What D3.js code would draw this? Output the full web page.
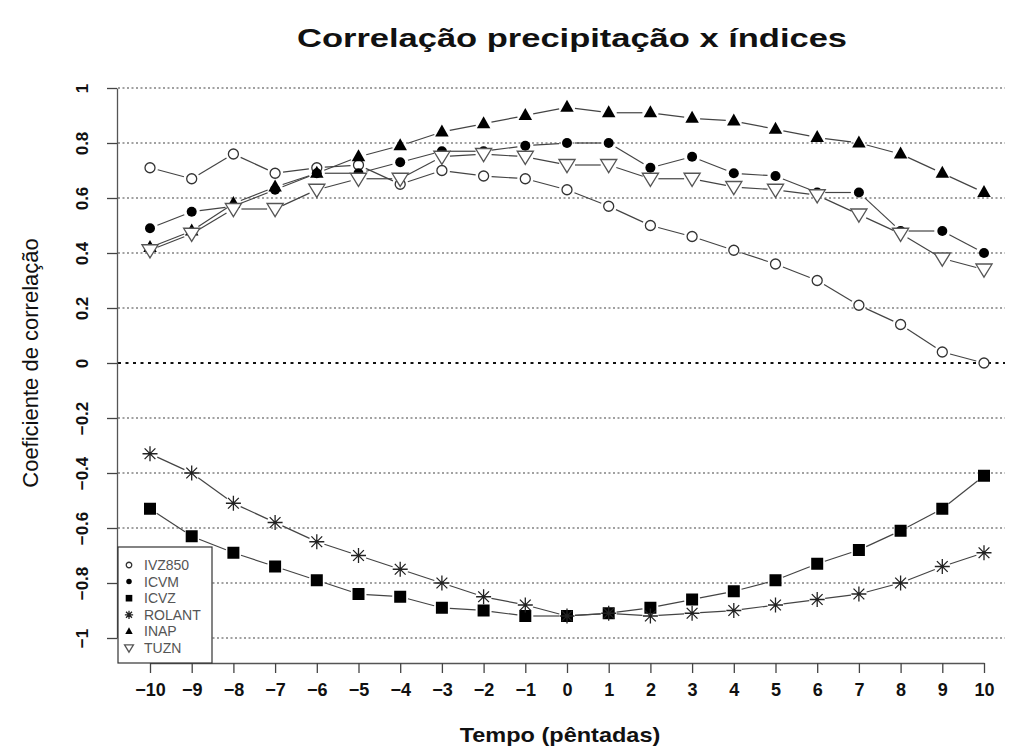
<!DOCTYPE html>
<html>
<head>
<meta charset="utf-8">
<script src="https://cdn.jsdelivr.net/npm/d3@7"></script>
<style>
  body { margin: 0; background: #fff; }
  svg { display: block; font-family: "Liberation Sans", Arial, sans-serif; }
</style>
</head>
<body>
<div id="chart"></div>
<script>
// x categories and tick labels
const tempo = [-10, -9, -8, -7, -6, -5, -4, -3, -2, -1, 0, 1, 2, 3, 4, 5, 6, 7, 8, 9, 10];
const yTicks = [-1, -0.8, -0.6, -0.4, -0.2, 0, 0.2, 0.4, 0.6, 0.8, 1];
const seriesNames = ["IVZ850", "ICVM", "ICVZ", "ROLANT", "INAP", "TUZN"];
// series values
const ivz850 = [0.71, 0.67, 0.76, 0.69, 0.71, 0.72, 0.65, 0.70, 0.68, 0.67, 0.63, 0.57, 0.50, 0.46, 0.41, 0.36, 0.30, 0.21, 0.14, 0.04, 0.00];
const icvm = [0.49, 0.55, 0.57, 0.63, 0.69, 0.69, 0.73, 0.77, 0.77, 0.79, 0.80, 0.80, 0.71, 0.75, 0.69, 0.68, 0.62, 0.62, 0.48, 0.48, 0.40];
const icvz = [-0.53, -0.63, -0.69, -0.74, -0.79, -0.84, -0.85, -0.89, -0.90, -0.92, -0.92, -0.91, -0.89, -0.86, -0.83, -0.79, -0.73, -0.68, -0.61, -0.53, -0.41];
const rolant = [-0.33, -0.40, -0.51, -0.58, -0.65, -0.70, -0.75, -0.80, -0.85, -0.88, -0.92, -0.91, -0.92, -0.91, -0.90, -0.88, -0.86, -0.84, -0.80, -0.74, -0.69];
const inap = [0.42, 0.48, 0.58, 0.64, 0.69, 0.75, 0.79, 0.84, 0.87, 0.90, 0.93, 0.91, 0.91, 0.89, 0.88, 0.85, 0.82, 0.80, 0.76, 0.69, 0.62];
const tuzn = [0.41, 0.47, 0.56, 0.56, 0.63, 0.67, 0.67, 0.75, 0.76, 0.75, 0.72, 0.72, 0.67, 0.67, 0.64, 0.63, 0.61, 0.54, 0.47, 0.38, 0.34];

const width = 1009, height = 749;
const svg = d3.select("#chart").append("svg").attr("width", width).attr("height", height);

// scales
const x = d3.scaleLinear().domain([-10, 10]).range([150, 984]);
const y = d3.scaleLinear().domain([-1, 1]).range([638, 88]);
const plotLeft = 118, plotRight = 1005, axisY = 663;

// dotted gridlines
svg.append("g").selectAll("line").data(yTicks).join("line")
  .attr("x1", plotLeft).attr("x2", plotRight)
  .attr("y1", d => y(d)).attr("y2", d => y(d))
  .attr("stroke", d => d === 0 ? "#111" : "#444")
  .attr("stroke-width", d => d === 0 ? 2 : 1.2)
  .attr("stroke-dasharray", d => d === 0 ? "3,4.5" : "2,2.5");

// y axis
const yAxis = svg.append("g").attr("transform", "translate(" + 117 + ",0)")
  .call(d3.axisLeft(y).tickValues(yTicks).tickSize(10).tickSizeOuter(0)
    .tickFormat(d => d === 0 ? "0" : d3.format("")(+d.toFixed(1))));
yAxis.select(".domain").attr("stroke", "#555").attr("stroke-width", 1.3);
yAxis.selectAll(".tick line").attr("stroke", "#444").attr("stroke-width", 1.3);
yAxis.selectAll(".tick text")
  .attr("transform", "rotate(-90)").attr("x", 0).attr("y", -29).attr("dy", 0)
  .attr("text-anchor", "middle")
  .style("font-size", "17px").style("font-weight", "bold").attr("fill", "#111");

// x axis
const xAxis = svg.append("g").attr("transform", "translate(0," + axisY + ")")
  .call(d3.axisBottom(x).tickValues(tempo).tickSize(10).tickSizeOuter(0).tickFormat(d3.format("d")));
xAxis.select(".domain").attr("stroke", "#555").attr("stroke-width", 1.3);
xAxis.selectAll(".tick line").attr("stroke", "#444").attr("stroke-width", 1.3);
xAxis.selectAll(".tick text").attr("y", 20).attr("dy", "0.71em")
  .style("font-size", "18px").style("font-weight", "bold").attr("fill", "#111");

// titles
svg.append("text").attr("transform", "translate(572,47) scale(1.38,1)").attr("text-anchor", "middle")
  .style("font-size", "25px").style("font-weight", "bold").attr("fill", "#111")
  .text("Correlação precipitação x índices");
svg.append("text").attr("transform", "translate(38,363) rotate(-90)").attr("text-anchor", "middle")
  .style("font-size", "22px").attr("fill", "#111").text("Coeficiente de correlação");
svg.append("text").attr("transform", "translate(560,742) scale(1.12,1)").attr("text-anchor", "middle")
  .style("font-size", "21px").style("font-weight", "bold").attr("fill", "#111")
  .text("Tempo (pêntadas)");

// marker drawing
function marker(g, kind, s) {
  if (kind === "circleOpen") {
    g.append("circle").attr("r", 5 * s).attr("fill", "#fff").attr("stroke", "#333").attr("stroke-width", 1.3);
  } else if (kind === "circle") {
    g.append("circle").attr("r", 5 * s).attr("fill", "#000");
  } else if (kind === "square") {
    const a = 12 * s;
    g.append("rect").attr("x", -a / 2).attr("y", -a / 2).attr("width", a).attr("height", a).attr("fill", "#000");
  } else if (kind === "star") {
    const r = 7.5 * s, k = r * 0.72;
    const p = "M" + (-r) + ",0L" + r + ",0M0," + (-r) + "L0," + r +
      "M" + (-k) + "," + (-k) + "L" + k + "," + k + "M" + (-k) + "," + k + "L" + k + "," + (-k);
    g.append("path").attr("d", p).attr("stroke", "#222").attr("stroke-width", 1.3).attr("fill", "none");
  } else if (kind === "triUp") {
    const r = 7.5 * s;
    g.append("path").attr("d", "M0," + (-r) + "L" + (r * 0.9) + "," + (r * 0.6) + "L" + (-r * 0.9) + "," + (r * 0.6) + "Z").attr("fill", "#000");
  } else if (kind === "triDown") {
    const r = 8.5 * s;
    g.append("path").attr("d", "M0," + (r * 0.9) + "L" + (r * 0.95) + "," + (-r * 0.65) + "L" + (-r * 0.95) + "," + (-r * 0.65) + "Z")
      .attr("fill", "#fff").attr("stroke", "#555").attr("stroke-width", 1.3);
  }
}

const series = [
  { name: seriesNames[0], values: ivz850, kind: "circleOpen" },
  { name: seriesNames[1], values: icvm, kind: "circle" },
  { name: seriesNames[2], values: icvz, kind: "square" },
  { name: seriesNames[3], values: rolant, kind: "star" },
  { name: seriesNames[4], values: inap, kind: "triUp" },
  { name: seriesNames[5], values: tuzn, kind: "triDown" }
];

// lines with gaps at the points (like type = "b")
const gap = 8;
series.forEach(s => {
  const pts = tempo.map((t, i) => [x(t), y(s.values[i])]);
  const segs = [];
  for (let i = 0; i < pts.length - 1; i++) {
    const [x0, y0] = pts[i], [x1, y1] = pts[i + 1];
    const len = Math.hypot(x1 - x0, y1 - y0);
    if (len <= 2 * gap) continue;
    const ux = (x1 - x0) / len, uy = (y1 - y0) / len;
    segs.push([x0 + ux * gap, y0 + uy * gap, x1 - ux * gap, y1 - uy * gap]);
  }
  svg.append("g").selectAll("line").data(segs).join("line")
    .attr("x1", d => d[0]).attr("y1", d => d[1]).attr("x2", d => d[2]).attr("y2", d => d[3])
    .attr("stroke", "#444").attr("stroke-width", 1.2);
});
series.forEach(s => {
  svg.append("g").selectAll("g").data(tempo).join("g")
    .attr("transform", (t, i) => "translate(" + x(t) + "," + y(s.values[i]) + ")")
    .each(function () { marker(d3.select(this), s.kind, 1); });
});

// legend
const leg = svg.append("g");
leg.append("rect").attr("x", 118).attr("y", 547).attr("width", 94).attr("height", 116)
  .attr("fill", "#fff").attr("stroke", "#333").attr("stroke-width", 1.2);
const legRows = d3.scaleLinear().domain([0, 5]).range([565, 648]);
series.forEach((s, i) => {
  const g = leg.append("g").attr("transform", "translate(129," + legRows(i) + ")");
  marker(g, s.kind, 0.55);
  leg.append("text").attr("x", 144).attr("y", legRows(i)).attr("dy", "0.36em")
    .style("font-size", "14px").attr("fill", "#555").text(s.name);
});
</script>
</body>
</html>
